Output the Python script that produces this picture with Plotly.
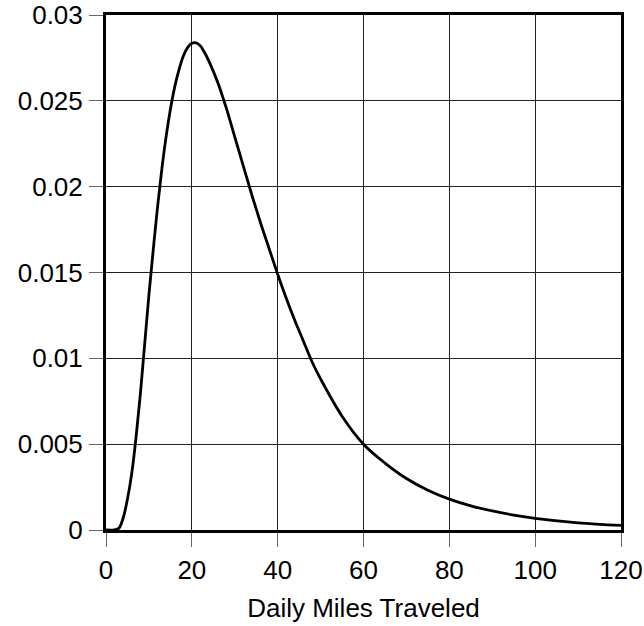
import plotly.graph_objects as go

miles = [0, 2, 3, 4, 5, 6, 7, 8, 9, 10, 11, 12, 13, 14, 15, 16, 17, 18, 19, 20, 21, 22,
         23, 24, 26, 28, 30, 32, 34, 36, 38, 40, 42, 44, 46, 48, 50, 55, 60, 65, 70, 75,
         80, 85, 90, 95, 100, 110, 120]
density = [0, 0.00001, 0.0001, 0.0007, 0.0018, 0.0033, 0.0054, 0.0079, 0.0108, 0.0137,
           0.0163, 0.0188, 0.0210, 0.0229, 0.0245, 0.0258, 0.0268, 0.0276, 0.0281, 0.02835,
           0.02838, 0.0282, 0.0278, 0.0273, 0.0261, 0.0246, 0.0229, 0.0212, 0.0195, 0.0179,
           0.0164, 0.0149, 0.0135, 0.0122, 0.0110, 0.0098, 0.0088, 0.00663, 0.0050, 0.0039,
           0.0030, 0.00232, 0.0018, 0.00141, 0.00111, 0.00087, 0.00068, 0.00042, 0.00027]

fig = go.Figure()
fig.add_trace(go.Scatter(x=miles, y=density, mode="lines",
                         line=dict(color="black", width=2.8, shape="spline", smoothing=1.0),
                         showlegend=False, hoverinfo="skip"))

font = dict(family="Liberation Sans, Arial, sans-serif", size=26, color="black")

fig.update_layout(
    width=644, height=626,
    margin=dict(l=106, r=23, t=15, b=96, autoexpand=False),
    paper_bgcolor="white", plot_bgcolor="white",
    font=font,
    xaxis=dict(range=[0, 120], dtick=20, tick0=0, showgrid=True, gridcolor="#222",
               gridwidth=1, zeroline=False, showline=True, linecolor="black",
               linewidth=3, mirror=True, ticks="outside", ticklen=14,
               tickcolor="#666", tickwidth=1, automargin=False, tickfont=font,
               ticklabelstandoff=1,
               title=dict(text="Daily Miles Traveled", font=font, standoff=15)),
    yaxis=dict(range=[0, 0.03], dtick=0.005, tick0=0, showgrid=True, gridcolor="#222",
               gridwidth=1, zeroline=False, showline=True, linecolor="black",
               linewidth=3, mirror=True, ticks="outside", ticklen=14,
               tickcolor="#666", tickwidth=1, automargin=False, tickfont=font,
               ticklabelstandoff=1),
)

fig.write_html("out.html")
